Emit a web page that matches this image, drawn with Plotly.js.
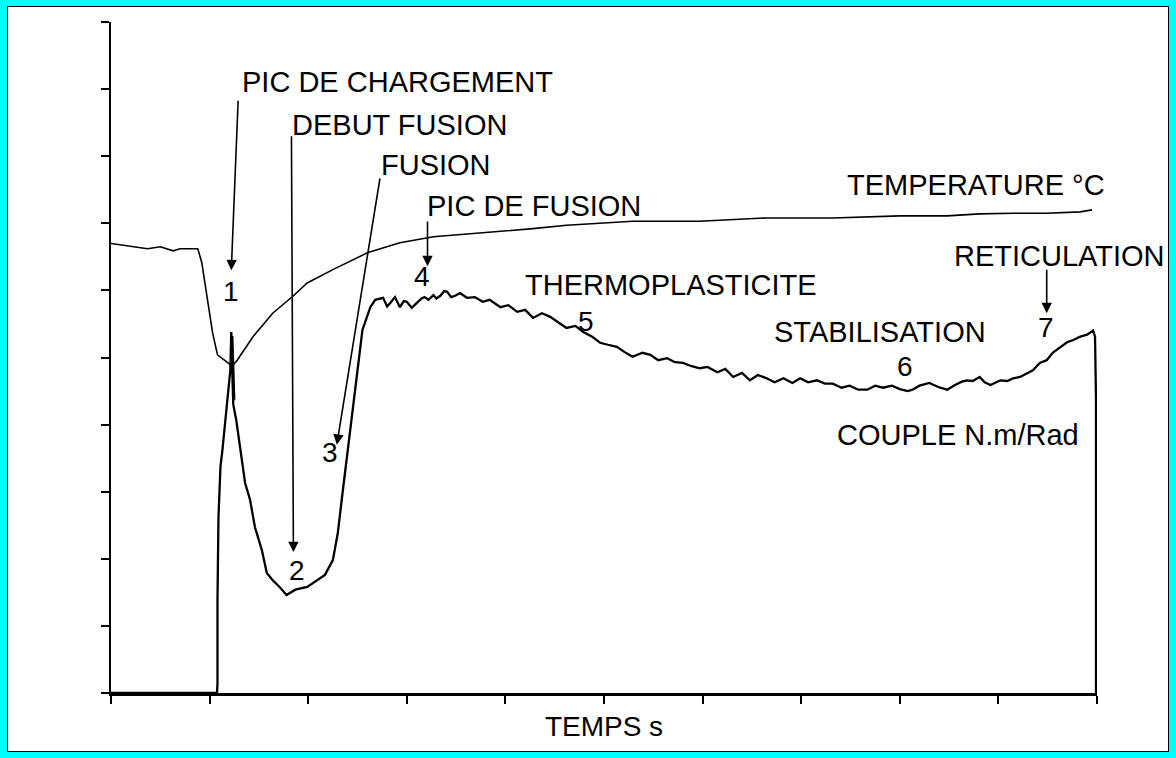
<!DOCTYPE html>
<html>
<head>
<meta charset="utf-8">
<script src="https://cdn.plot.ly/plotly-3.0.1.min.js"></script>
<style>
  html, body { margin: 0; padding: 0; background: #00FFFF; width: 1176px; height: 758px; overflow: hidden; }
  #frame { position: absolute; left: 7px; top: 6px; width: 1162px; height: 746px; box-sizing: border-box; border: 1px solid #000; background: #fff; }
  #chart { width: 1160px; height: 744px; }
</style>
</head>
<body>
<div id="frame"><div id="chart"></div></div>
<script>
// ---- Data (axis units: time 0..10 ticks, value 0..10 ticks) ----
const tempTime = [0.00,0.19,0.37,0.50,0.63,0.70,0.88,0.92,0.98,1.03,1.08,1.18,1.23,1.28,1.44,1.64,1.85,1.99,2.25,2.60,2.93,3.27,3.61,3.95,4.28,4.62,4.96,5.29,5.97,6.31,6.65,7.32,7.67,8.00,8.48,8.81,9.15,9.49,9.83,9.95];
const tempValue = [6.70,6.66,6.62,6.65,6.59,6.62,6.62,6.42,5.86,5.37,5.04,4.92,4.87,4.96,5.31,5.66,5.92,6.11,6.31,6.56,6.71,6.80,6.84,6.89,6.92,6.97,7.00,7.03,7.03,7.05,7.08,7.08,7.09,7.11,7.11,7.14,7.15,7.15,7.17,7.20];

const coupleTime = [0.00,1.075,1.08,1.08,1.09,1.11,1.13,1.17,1.21,1.22,1.24,1.23,1.25,1.22,1.24,1.27,1.31,1.36,1.41,1.46,1.53,1.58,1.64,1.71,1.78,1.87,1.99,2.05,2.17,2.25,2.30,2.34,2.39,2.49,2.55,2.63,2.68,2.76,
  2.80,2.83,2.88,2.93,2.97,3.00,3.05,3.10,3.15,3.18,3.22,3.27,3.30,3.34,3.38,3.41,3.45,3.49,3.54,3.61,3.69,3.77,3.84,3.95,4.03,4.12,4.20,4.28,4.37,4.45,4.53,4.62,4.71,4.79,4.88,4.96,5.04,5.13,5.21,5.29,5.39,5.47,5.55,5.64,5.72,5.80,5.89,5.97,6.05,6.15,6.23,6.31,6.40,6.48,6.56,6.65,6.73,6.82,6.91,6.99,7.07,7.16,7.24,7.32,7.41,7.49,7.58,7.67,7.75,7.83,7.92,8.00,8.08,8.13,8.20,8.30,8.39,8.48,8.56,8.63,8.68,8.74,8.81,8.86,8.92,8.97,9.02,9.09,9.15,9.22,9.29,9.35,9.42,9.49,9.55,9.62,9.70,9.76,9.83,9.90,9.93,9.96,9.98,9.99,9.99];
const coupleValue = [0.00,0.00,0.15,1.39,2.62,3.37,3.62,4.22,4.81,5.38,4.32,5.32,4.37,5.30,4.30,4.07,3.62,3.13,2.88,2.47,2.13,1.79,1.68,1.58,1.46,1.54,1.58,1.64,1.76,1.98,2.38,2.88,3.47,4.66,5.41,5.75,5.86,5.89,
  5.76,5.81,5.90,5.75,5.84,5.83,5.74,5.81,5.88,5.90,5.86,5.93,5.88,5.92,5.99,5.98,5.90,5.92,5.96,5.89,5.90,5.83,5.86,5.75,5.78,5.68,5.71,5.59,5.66,5.61,5.53,5.44,5.47,5.38,5.31,5.22,5.19,5.16,5.08,5.01,5.07,5.04,4.96,4.99,4.93,4.92,4.87,4.84,4.86,4.78,4.83,4.71,4.77,4.66,4.74,4.69,4.63,4.69,4.62,4.69,4.63,4.66,4.61,4.61,4.55,4.58,4.52,4.52,4.58,4.55,4.58,4.53,4.50,4.52,4.58,4.62,4.56,4.52,4.59,4.64,4.66,4.65,4.71,4.63,4.59,4.63,4.66,4.65,4.69,4.71,4.77,4.81,4.92,4.96,5.07,5.14,5.23,5.26,5.31,5.34,5.37,5.40,5.31,4.37,0.00];

const stageLabels = ["PIC DE CHARGEMENT","DEBUT FUSION","FUSION","PIC DE FUSION","THERMOPLASTICITE","STABILISATION","RETICULATION"];
const stageNumbers = ["1","2","3","4","5","6","7"];
const seriesLabels = ["TEMPERATURE °C","COUPLE N.m/Rad"];
const xAxisLabel = "TEMPS s";

// ---- Layout positions (in axis units) ----
const stageLabelPos = [[1.31,9.11],[1.82,8.46],[2.72,7.87],[3.18,7.26],[4.18,6.08],[6.70,5.38],[8.53,6.51]];
const stageNumberPos = [[1.22,5.98],[1.89,1.83],[2.22,3.59],[3.15,6.20],[4.82,5.54],[8.05,4.86],[9.48,5.45]];
const seriesLabelPos = [[7.44,7.57],[7.34,3.85]];
// arrows: [tipX, tipY, tailX, tailY]
const arrows = [[1.22,6.30,1.29,8.85],[1.85,2.10,1.83,8.32],[2.29,3.70,2.73,7.69],[3.21,6.36,3.21,7.05],[9.49,5.66,9.49,6.33]];

const FONT = "'Liberation Sans', Arial, Helvetica, sans-serif";
const annotations = [];
stageLabels.forEach((t,i)=>annotations.push({x:stageLabelPos[i][0], y:stageLabelPos[i][1], xref:'x', yref:'y', text:t, showarrow:false, xanchor:'left', yanchor:'middle', font:{family:FONT, size:29, color:'#000'}}));
seriesLabels.forEach((t,i)=>annotations.push({x:seriesLabelPos[i][0], y:seriesLabelPos[i][1], xref:'x', yref:'y', text:t, showarrow:false, xanchor:'left', yanchor:'middle', font:{family:FONT, size:29, color:'#000'}}));
stageNumbers.forEach((t,i)=>annotations.push({x:stageNumberPos[i][0], y:stageNumberPos[i][1], xref:'x', yref:'y', text:t, showarrow:false, xanchor:'center', yanchor:'middle', font:{family:FONT, size:28, color:'#000'}}));
arrows.forEach(a=>annotations.push({x:a[0], y:a[1], ax:a[2], ay:a[3], xref:'x', yref:'y', axref:'x', ayref:'y', text:'', showarrow:true, arrowhead:2, arrowsize:1.3, arrowwidth:1.6, arrowcolor:'#000', standoff:0, startstandoff:0}));

const traces = [
  {x: tempTime, y: tempValue, type:'scatter', mode:'lines', name: seriesLabels[0], line:{color:'#000', width:1.6}, hoverinfo:'skip'},
  {x: coupleTime, y: coupleValue, type:'scatter', mode:'lines', name: seriesLabels[1], line:{color:'#000', width:2.3}, hoverinfo:'skip'}
];

const layout = {
  width: 1160, height: 744,
  margin: {l:103, r:71, t:15, b:58},
  paper_bgcolor:'#fff', plot_bgcolor:'#fff',
  showlegend:false,
  font:{family:FONT, color:'#000'},
  xaxis:{range:[0,10], dtick:1, tick0:0, ticks:'outside', ticklen:8, tickwidth:2, tickcolor:'#000', showticklabels:false, showline:true, linewidth:2.5, linecolor:'#000', showgrid:false, zeroline:false, fixedrange:true,
         title:{text:xAxisLabel, font:{family:FONT, size:28, color:'#000'}, standoff:14}},
  yaxis:{range:[0,10], dtick:1, tick0:0, ticks:'outside', ticklen:8, tickwidth:2, tickcolor:'#000', showticklabels:false, showline:true, linewidth:2.5, linecolor:'#000', showgrid:false, zeroline:false, fixedrange:true},
  annotations: annotations
};
Plotly.newPlot('chart', traces, layout, {staticPlot:true, displayModeBar:false});
</script>
</body>
</html>
